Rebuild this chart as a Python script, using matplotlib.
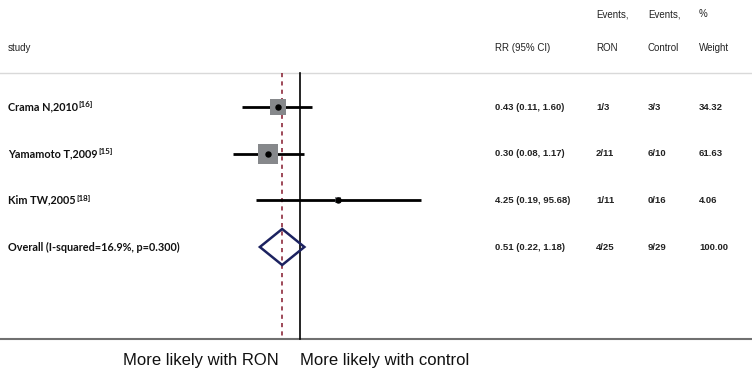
import numpy as np
import matplotlib
matplotlib.use("Agg")
import matplotlib.pyplot as plt
from matplotlib import transforms
from matplotlib.patches import Polygon

# ---------------- data ----------------
studies = ["Crama N,2010", "Yamamoto T,2009", "Kim TW,2005"]
refs = ["[16]", "[15]", "[18]"]
rr = [0.43, 0.30, 4.25]
ci_low = [0.11, 0.08, 0.19]
ci_high = [1.60, 1.17, 95.68]
ev_ron = ["1/3", "2/11", "1/11"]
ev_ctrl = ["3/3", "6/10", "0/16"]
weight = [34.32, 61.63, 4.06]

overall_label = "Overall (I-squared=16.9%, p=0.300)"
overall_rr = 0.51
overall_low = 0.22
overall_high = 1.18
overall_ron = "4/25"
overall_ctrl = "9/29"
overall_weight = 100.00

# ---------------- figure ----------------
W, H = 752, 371
fig = plt.figure(figsize=(W / 100, H / 100), dpi=100)
ax = fig.add_axes([0, 0, 1, 1])
ax.set_xscale("log")
# x: 1 at pixel 300, ~26.5 px per ln unit
k = 26.5
ax.set_xlim(np.exp(-300 / k), np.exp((W - 300) / k))
# y: rows 1..4 at pixel 107..247
step = (247 - 107) / 3
def py(p):
    return 1 + (p - 107) / step
ax.set_ylim(py(H), py(0))
ax.axis("off")

tr = transforms.blended_transform_factory(ax.transAxes, ax.transData)
def fx(p):
    return p / W

num_font = dict(family="Liberation Sans", fontsize=6.8, fontweight="bold", color="#222222")
name_font = dict(family="Lato", fontsize=7.8, fontweight="bold", color="#111111")

# header
hdr = dict(family="Liberation Sans", fontsize=7, color="#222222", va="center")
ax.text(fx(8), py(48), "study", transform=tr, **hdr)
ax.text(fx(495), py(48), "RR (95% CI)", transform=tr, **hdr)
ax.text(fx(596), py(14), "Events,", transform=tr, **hdr)
ax.text(fx(596), py(48), "RON", transform=tr, **hdr)
ax.text(fx(648), py(14), "Events,", transform=tr, **hdr)
ax.text(fx(648), py(48), "Control", transform=tr, **hdr)
ax.text(fx(699), py(14), "%", transform=tr, **hdr)
ax.text(fx(699), py(48), "Weight", transform=tr, **hdr)

# separator and bottom axis line
ax.axhline(py(73), color="#d9d9d9", lw=1.0)
ax.axhline(py(339), color="#707070", lw=1.5)

# reference lines
ax.plot([1, 1], [py(73), py(339)], color="black", lw=1.2)
ax.plot([overall_rr, overall_rr], [py(73), py(339)], color="#8e2a3c",
        lw=1.2, linestyle=(0, (2.5, 2.5)))

rows = np.arange(1, len(studies) + 1)
for i, y in enumerate(rows):
    ax.plot([ci_low[i], ci_high[i]], [y, y], color="black", lw=2.0, solid_capstyle="butt")
    ax.plot(rr[i], y, marker="s", markersize=1.9 * np.sqrt(weight[i]),
            color="#86888b", markeredgewidth=0, zorder=3)
    ax.plot(rr[i], y, marker="o", markersize=3.6, color="black", zorder=4)
    t = ax.text(fx(8), y, studies[i], transform=tr, va="center", **name_font)
    ax.annotate(refs[i], xy=(1, 1), xycoords=t, xytext=(0.3, 0),
                textcoords="offset points", va="top", ha="left",
                family="Lato", fontsize=5.8, fontweight="bold", color="#111111")
    ax.text(fx(495), y, "%.2f (%.2f, %.2f)" % (rr[i], ci_low[i], ci_high[i]),
            transform=tr, va="center", **num_font)
    ax.text(fx(596), y, ev_ron[i], transform=tr, va="center", **num_font)
    ax.text(fx(648), y, ev_ctrl[i], transform=tr, va="center", **num_font)
    ax.text(fx(699), y, "%.2f" % weight[i], transform=tr, va="center", **num_font)

# overall diamond
yo = len(studies) + 1
h = 18 / step
diamond = Polygon([(overall_low, yo), (overall_rr, yo - h), (overall_high, yo),
                   (overall_rr, yo + h)], closed=True, fill=False,
                  edgecolor="#1c2260", lw=1.8, zorder=5)
ax.add_patch(diamond)
ax.text(fx(8), yo, overall_label, transform=tr, va="center", **name_font)
ax.text(fx(495), yo, "%.2f (%.2f, %.2f)" % (overall_rr, overall_low, overall_high),
        transform=tr, va="center", **num_font)
ax.text(fx(596), yo, overall_ron, transform=tr, va="center", **num_font)
ax.text(fx(648), yo, overall_ctrl, transform=tr, va="center", **num_font)
ax.text(fx(699), yo, "%.2f" % overall_weight, transform=tr, va="center", **num_font)

# direction labels
lab = dict(family="Liberation Sans", fontsize=12, color="#111111", va="center")
ax.annotate("More likely with RON", xy=(1, py(361)), xytext=(-15, 0),
            textcoords="offset points", ha="right", **lab)
ax.annotate("More likely with control", xy=(1, py(361)), xytext=(0, 0),
            textcoords="offset points", ha="left", **lab)

fig.savefig("out.png", dpi=100)
